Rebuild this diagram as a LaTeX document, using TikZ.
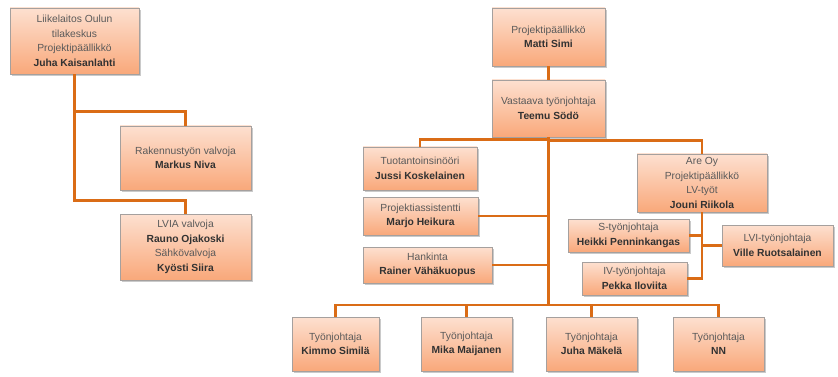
\documentclass[tikz,border=0pt]{standalone}
\usepackage{fontspec}
\setmainfont{Liberation Sans}
\usetikzlibrary{shadows,calc}
\definecolor{boxtop}{RGB}{253,224,208}
\definecolor{boxbot}{RGB}{249,168,122}
\definecolor{boxline}{RGB}{165,160,158}
\definecolor{conncol}{RGB}{218,108,22}
\definecolor{txtgray}{RGB}{90,90,90}
\definecolor{txtdark}{RGB}{50,50,50}
\newcommand{\pname}[1]{{\bfseries\color{txtdark}#1}}
\tikzset{
  box/.style={draw=boxline, line width=0.9pt, top color=boxtop, bottom color=boxbot,
    align=center, inner sep=0pt, text=txtgray,
    font=\fontsize{10.3}{14.5}\selectfont,
    drop shadow={shadow xshift=1.6pt, shadow yshift=-1.6pt, fill=black!35, opacity=0.6}},
  conn/.style={draw=conncol, line width=2.3pt}
}
\begin{document}
\begin{tikzpicture}[x=1pt,y=-1pt]
\useasboundingbox (0,0) rectangle (838,377);
% left tree
\node[box, minimum width=129pt, minimum height=66pt] (lk) at (74.5,41) {Liikelaitos Oulun\\tilakeskus\\Projektipäällikkö\\\pname{Juha Kaisanlahti}};
\node[box, minimum width=131pt, minimum height=64pt] (rak) at (185.5,158) {Rakennustyön valvoja\\\pname{Markus Niva}};
\node[box, minimum width=131pt, minimum height=66pt] (lvia) at (185.5,247) {LVIA valvoja\\\pname{Rauno Ojakoski}\\Sähkövalvoja\\\pname{Kyösti Siira}};
% right tree
\node[box, minimum width=113pt, minimum height=58pt] (ms) at (548.5,37) {Projektipäällikkö\\\pname{Matti Simi}};
\node[box, minimum width=113pt, minimum height=57pt] (vt) at (548.5,108.5) {Vastaava työnjohtaja\\\pname{Teemu Södö}};
\node[box, minimum width=114pt, minimum height=43pt] (tuo) at (420,168.5) {Tuotantoinsinööri\\\pname{Jussi Koskelainen}};
\node[box, minimum width=115pt, minimum height=38pt] (pa) at (420.5,216) {Projektiassistentti\\\pname{Marjo Heikura}};
\node[box, minimum width=129pt, minimum height=36pt] (han) at (427.5,265) {Hankinta\\\pname{Rainer Vähäkuopus}};
\node[box, minimum width=130pt, minimum height=58pt] (are) at (702,183) {Are Oy\\Projektipäällikkö\\LV-työt\\\pname{Jouni Riikola}};
\node[box, minimum width=121pt, minimum height=33pt] (s) at (628.5,235.5) {S-työnjohtaja\\\pname{Heikki Penninkangas}};
\node[box, minimum width=111pt, minimum height=41pt] (lvi) at (777.5,245.5) {LVI-työnjohtaja\\\pname{Ville Ruotsalainen}};
\node[box, minimum width=105pt, minimum height=33pt] (iv) at (634.5,278.5) {IV-työnjohtaja\\\pname{Pekka Iloviita}};
\node[box, minimum width=87pt, minimum height=54pt] (b1) at (335.5,344) {Työnjohtaja\\\pname{Kimmo Similä}};
\node[box, minimum width=91pt, minimum height=54pt] (b2) at (466.5,344) {Työnjohtaja\\\pname{Mika Maijanen}};
\node[box, minimum width=91pt, minimum height=54pt] (b3) at (591.5,344) {Työnjohtaja\\\pname{Juha Mäkelä}};
\node[box, minimum width=91pt, minimum height=54pt] (b4) at (718.5,344) {Työnjohtaja\\\pname{NN}};
\coordinate (bus) at (548.5,305);
% connectors
\begin{scope}[on background layer/.style={}]
\draw[conn] (lk.south) |- ([yshift=14pt]rak.north) -- (rak.north);
\draw[conn] (lk.south) |- ([yshift=13pt]lvia.north) -- (lvia.north);
\draw[conn] (ms.south) -- (vt.north);
\draw[conn] (vt.south) |- ([yshift=7pt]tuo.north) -- (tuo.north);
\draw[conn] (vt.south) |- ([yshift=13pt]are.north) -- (are.north);
\draw[conn] (vt.south) -- (bus);
\draw[conn] (pa.east) -- (pa.east -| vt.south);
\draw[conn] (han.east) -- (han.east -| vt.south);
\draw[conn] (bus) -| (b1.north);
\draw[conn] (bus) -| (b2.north);
\draw[conn] (bus) -| (b3.north);
\draw[conn] (bus) -| (b4.north);
\draw[conn] (are.south) |- (iv.east);
\draw[conn] (s.east) -- (s.east -| are.south);
\draw[conn] (lvi.west) -- (lvi.west -| are.south);
\end{scope}
\end{tikzpicture}
\end{document}
